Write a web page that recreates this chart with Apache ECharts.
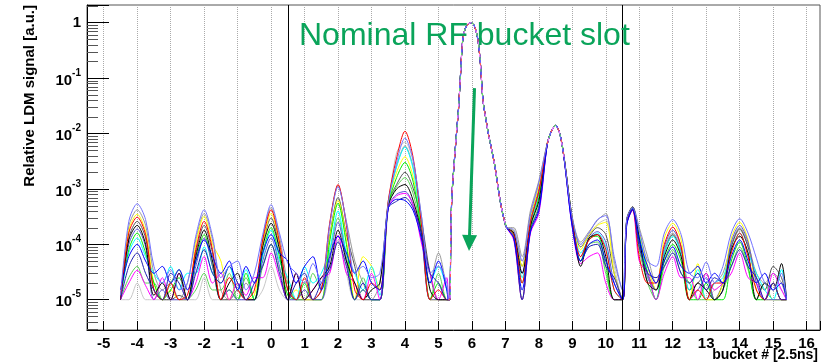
<!DOCTYPE html>
<html>
<head>
<meta charset="utf-8">
<script src="https://cdn.jsdelivr.net/npm/echarts@6/dist/echarts.min.js"></script>
<style>
  html, body { margin: 0; padding: 0; background: #fff; }
  #chart { width: 832px; height: 363px; }
</style>
</head>
<body>
<div id="chart"></div>
<script>
// Bucket positions (units of 2.5 ns) for the three stretches of every trace
const bucketsLeft = [-4.5, -4.25, -4.0, -3.75, -3.5, -3.25, -3.0, -2.75, -2.5, -2.25,
  -2.0, -1.75, -1.5, -1.25, -1.0, -0.75, -0.5, -0.25, 0, 0.25,
  0.5, 0.75, 1.0, 1.25, 1.5, 1.75, 2.0, 2.25, 2.5, 2.75,
  3.0, 3.25, 3.5, 3.75, 4.0, 4.25, 4.5, 4.75, 5.0, 5.25];
const bucketsCore = [5.3, 5.34, 5.37, 5.4, 5.45, 5.5, 5.55, 5.6, 5.65, 5.72,
  5.8, 5.9, 5.97, 6.05, 6.12, 6.18, 6.25, 6.33, 6.42, 6.49,
  6.58, 6.69, 6.84, 6.95, 7.04];
const bucketsRight = [7.25, 7.5, 7.75, 8.0, 8.25, 8.375, 8.5, 8.625, 8.75, 9.0,
  9.25, 9.5, 9.75, 10.0, 10.25, 10.5, 10.625, 10.8, 11.0, 11.25,
  11.5, 11.75, 12.0, 12.25, 12.5, 12.75, 13.0, 13.25, 13.5, 13.75,
  14.0, 14.25, 14.5, 14.75, 15.0, 15.25, 15.4];

// Main RF bucket: identical for all traces
const coreSignal = [1e-5, 1e-5, 1.5e-4, 7e-4, 2e-3, 5e-3, 1.2e-2, 2.8e-2, 9e-2, 0.45,
  0.78, 0.96, 1.0, 0.93, 0.72, 0.49, 0.2, 4e-2, 1.8e-2, 1e-2,
  5.5e-3, 2.5e-3, 6.3e-4, 3e-4, 2e-4];

// Satellite / ghost bunch signal per trace
const lavenderLeft = [1.2e-5, 2.6e-4, 5.4e-4, 2.8e-4, 4e-5, 2e-5, 3.5e-5, 1.5e-5, 2e-5, 1.4e-4,
  4.2e-4, 1.4e-4, 2.5e-5, 4e-5, 5e-5, 1.5e-5, 3e-5, 1.5e-4, 5.2e-4, 1.6e-4,
  4.5e-5, 3e-5, 2e-5, 4.5e-5, 2e-5, 2.2e-4, 1.1e-3, 2.5e-4, 3e-5, 4e-5,
  2.5e-5, 3e-5, 5.5e-4, 3e-3, 8.3e-3, 3.2e-3, 3e-4, 3e-5, 4e-5, 2e-5];
const lavenderRight = [1.8e-4, 5e-5, 3.5e-4, 1.3e-3, 6.5e-3, 1.1e-2, 1.4e-2, 1e-2, 3.8e-3, 3e-4,
  1e-4, 1.6e-4, 2.8e-4, 3.3e-4, 6e-5, 1.5e-5, 2.8e-4, 4.6e-4, 1.8e-4, 5e-5,
  4e-5, 1.6e-4, 2.8e-4, 1.5e-4, 3e-5, 2.5e-5, 4.8e-5, 2e-5, 4e-5, 1.6e-4,
  2.9e-4, 1.6e-4, 5.6e-5, 2e-5, 1.5e-5, 3e-5, 1e-5];

const redLeft = [1e-5, 1.6e-4, 3.1e-4, 1.5e-4, 1.5e-5, 1e-5, 2e-5, 1e-5, 1.2e-5, 8e-5,
  2.6e-4, 8e-5, 1e-5, 2.5e-5, 1.5e-5, 1e-5, 1.5e-5, 1.2e-4, 4.2e-4, 1.1e-4,
  1.5e-5, 1e-5, 2.5e-5, 1e-5, 1.5e-5, 2.4e-4, 1.2e-3, 2.2e-4, 1.5e-5, 1e-5,
  2e-5, 1.5e-5, 6e-4, 3.6e-3, 1.1e-2, 3.5e-3, 2e-4, 1e-5, 1.5e-5, 1e-5];
const redRight = [1.5e-4, 2e-5, 2.5e-4, 9e-4, 6.5e-3, 1.1e-2, 1.4e-2, 1e-2, 3.8e-3, 2.5e-4,
  6e-5, 1.2e-4, 1.5e-4, 8e-5, 1.5e-5, 1e-5, 2.5e-4, 4.2e-4, 6e-5, 2e-5,
  2e-5, 1e-4, 2.05e-4, 9e-5, 1e-5, 1.5e-5, 1e-5, 2e-5, 2e-5, 7e-5,
  1.6e-4, 6e-5, 1.5e-5, 1e-5, 2e-5, 1e-5, 1e-5];

const blueLeft = [1.5e-5, 6e-5, 1e-4, 5e-5, 3e-5, 4e-5, 2e-5, 3.5e-5, 1.5e-5, 5e-5,
  1.2e-4, 6e-5, 3e-5, 5e-5, 1.5e-5, 4e-5, 2e-5, 7e-5, 1.5e-4, 7e-5,
  5e-5, 2e-5, 4e-5, 6e-5, 1.5e-5, 6e-5, 1.4e-4, 7e-5, 3e-5, 5e-5,
  2e-5, 1.5e-5, 4.5e-4, 6.5e-4, 6.2e-4, 4e-4, 1.2e-4, 2e-5, 5e-5, 1.5e-5];
const blueRight = [1.3e-4, 1.5e-5, 1.7e-4, 4e-4, 6.3e-3, 1.1e-2, 1.4e-2, 1e-2, 3.7e-3, 2e-4,
  5e-5, 1e-4, 1.2e-4, 5e-5, 2e-5, 1e-5, 2.2e-4, 4.3e-4, 1.2e-4, 4e-5,
  2e-5, 5e-5, 9e-5, 4e-5, 3e-5, 4e-5, 2e-5, 3e-5, 2e-5, 6e-5,
  1.2e-4, 5e-5, 2e-5, 3e-5, 1.5e-5, 2e-5, 1e-5];

const blackLeft = [1e-5, 1.2e-4, 2.2e-4, 1e-4, 1.2e-5, 2e-5, 1e-5, 3e-5, 1e-5, 6e-5,
  1.8e-4, 5e-5, 1e-5, 2e-5, 3e-5, 1e-5, 1e-5, 9e-5, 2.4e-4, 8e-5,
  1e-5, 3e-5, 1e-5, 1.5e-5, 2.5e-5, 4e-5, 1.8e-4, 5e-5, 2e-5, 1e-5,
  1.5e-5, 2e-5, 5e-4, 1e-3, 1.2e-3, 6e-4, 1.5e-4, 1.5e-5, 1e-5, 1e-5];
const blackRight = [1.6e-4, 3e-5, 2.2e-4, 6e-4, 6.4e-3, 1.1e-2, 1.4e-2, 1e-2, 3.8e-3, 2.8e-4,
  4e-5, 1.3e-4, 1.5e-4, 6e-5, 1e-5, 1e-5, 2.7e-4, 4.7e-4, 1.3e-4, 2e-5,
  1.5e-5, 6e-5, 1.2e-4, 6e-5, 1e-5, 2e-5, 1.5e-5, 1e-5, 1.5e-5, 8e-5,
  1.4e-4, 7e-5, 1e-5, 2e-5, 1.5e-5, 4.5e-5, 1e-5];

const greenLeft = [1e-5, 8e-5, 1.6e-4, 7e-5, 2e-5, 1e-5, 1.5e-5, 2.5e-5, 1e-5, 5e-5,
  1.5e-4, 4e-5, 1e-5, 1.5e-5, 1e-5, 3e-5, 1e-5, 7e-5, 2e-4, 6e-5,
  1.2e-5, 1e-5, 2e-5, 1e-5, 1e-5, 1.1e-4, 5.5e-4, 1e-4, 1e-5, 1.5e-5,
  1e-5, 1e-5, 5e-4, 1.6e-3, 3e-3, 1.3e-3, 1.5e-4, 1e-5, 2e-5, 1e-5];
const greenRight = [1.5e-4, 1e-5, 2e-4, 7e-4, 6.5e-3, 1.1e-2, 1.4e-2, 1e-2, 3.8e-3, 2.6e-4,
  5e-5, 1.3e-4, 1.4e-4, 4e-5, 1e-5, 1e-5, 2.6e-4, 4.4e-4, 1e-4, 3e-5,
  1e-5, 5e-5, 1e-4, 5e-5, 1e-5, 1e-5, 2e-5, 1e-5, 1e-5, 5e-5,
  1.1e-4, 4e-5, 1e-5, 1e-5, 2e-5, 1e-5, 1e-5];

const yellowLeft = [1e-5, 1.8e-4, 3.5e-4, 1.7e-4, 2e-5, 1e-5, 1.5e-5, 1e-5, 1e-5, 1e-4,
  3.2e-4, 1e-4, 5e-5, 1e-5, 2e-5, 1e-5, 1.2e-5, 1e-4, 3.6e-4, 1e-4,
  1e-5, 1.5e-5, 1e-5, 1e-5, 1e-5, 1.3e-4, 6.2e-4, 1.2e-4, 1e-5, 6e-5,
  4e-5, 1.5e-5, 5.5e-4, 2e-3, 3.8e-3, 1.6e-3, 2.2e-4, 1e-5, 1e-5, 1e-5];
const yellowRight = [1.7e-4, 4e-5, 3e-4, 1.1e-3, 6.6e-3, 1.1e-2, 1.4e-2, 1e-2, 3.9e-3, 3e-4,
  8e-5, 1.5e-4, 2.2e-4, 2.5e-4, 3e-5, 1e-5, 2.7e-4, 4.5e-4, 1.6e-4, 4e-5,
  1.5e-5, 1.3e-4, 2.4e-4, 1.2e-4, 1e-5, 4.5e-5, 1e-5, 1e-5, 2e-5, 1.3e-4,
  2.5e-4, 1.2e-4, 1.5e-5, 1e-5, 1e-5, 1e-5, 1e-5];

const magentaLeft = [1e-5, 2e-5, 3.4e-5, 1.8e-5, 1e-5, 2.5e-5, 1e-5, 3e-5, 1e-5, 2e-5,
  6e-5, 2e-5, 3e-5, 1e-5, 2e-5, 1.2e-5, 2.5e-5, 2.5e-5, 7e-5, 2.5e-5,
  1e-5, 3e-5, 1e-5, 1.5e-5, 2.5e-5, 3e-5, 1.45e-4, 3e-5, 2e-5, 1e-5,
  3e-5, 1e-5, 4.5e-4, 7.5e-4, 8.3e-4, 5e-4, 1e-4, 3e-5, 1e-5, 2.5e-5];
const magentaRight = [1.2e-4, 1e-5, 1.6e-4, 3.6e-4, 6.2e-3, 1.1e-2, 1.4e-2, 1e-2, 3.7e-3, 2e-4,
  4.5e-5, 6e-5, 7e-5, 2e-5, 1e-5, 1e-5, 2.3e-4, 4.1e-4, 5e-5, 3e-5,
  1e-5, 3e-5, 6e-5, 2.5e-5, 2.5e-5, 1e-5, 3e-5, 1.5e-5, 2e-5, 3e-5,
  7e-5, 2.5e-5, 2e-5, 1e-5, 3e-5, 1.5e-5, 1e-5];

const cyanLeft = [1e-5, 7e-5, 1.3e-4, 6e-5, 3e-5, 2e-5, 4e-5, 1.5e-5, 3e-5, 3e-5,
  9e-5, 3e-5, 2e-5, 4e-5, 1.5e-5, 3.5e-5, 1e-5, 6e-5, 1.8e-4, 5e-5,
  2.5e-5, 1e-5, 4e-5, 2e-5, 3e-5, 8e-5, 4e-4, 7e-5, 3e-5, 1.5e-5,
  4e-5, 1.2e-5, 5.5e-4, 2.5e-3, 5.7e-3, 2.2e-3, 1.8e-4, 2e-5, 4e-5, 1.5e-5];
const cyanRight = [1.5e-4, 2.5e-5, 2.3e-4, 8e-4, 6.5e-3, 1.1e-2, 1.4e-2, 1e-2, 3.8e-3, 2.7e-4,
  7e-5, 1.2e-4, 1.6e-4, 9e-5, 1.5e-5, 1e-5, 2.6e-4, 4.5e-4, 1.4e-4, 3e-5,
  1e-5, 7e-5, 1.4e-4, 7e-5, 1.5e-5, 3.5e-5, 1e-5, 2e-5, 2.5e-5, 8e-5,
  1.6e-4, 7e-5, 3e-5, 1.5e-5, 1e-5, 3.5e-5, 1e-5];

const grayLeft = [1e-5, 2.1e-4, 4.2e-4, 2.2e-4, 3e-5, 1.5e-5, 2e-5, 1e-5, 2e-5, 1.2e-4,
  3.6e-4, 1.2e-4, 1.5e-5, 1e-5, 1e-5, 2e-5, 1e-5, 1.3e-4, 4.6e-4, 1.4e-4,
  2e-5, 1e-5, 1.5e-5, 1e-5, 1e-5, 2.2e-4, 1.15e-3, 2.6e-4, 5e-5, 2e-5,
  1e-5, 2e-5, 6e-4, 2.6e-3, 6e-3, 2.4e-3, 3e-4, 2e-5, 7e-5, 1.5e-5];
const grayRight = [2e-4, 6e-5, 4.1e-4, 1.4e-3, 6.7e-3, 1.1e-2, 1.4e-2, 1e-2, 3.9e-3, 3.1e-4,
  1.1e-4, 1.7e-4, 2.7e-4, 3.6e-4, 5e-5, 1.5e-5, 2.9e-4, 4.8e-4, 2e-4, 6e-5,
  2e-5, 8e-5, 1.6e-4, 8e-5, 2e-5, 3e-5, 1.5e-5, 2e-5, 3e-5, 1e-4,
  2e-4, 1e-4, 3e-5, 2e-5, 3e-5, 2e-5, 1e-5];

const darkGrayLeft = [1e-5, 1.3e-4, 2.6e-4, 1.3e-4, 1.5e-5, 1e-5, 1e-5, 1.2e-5, 1e-5, 7e-5,
  2.2e-4, 7e-5, 1e-5, 1e-5, 1.5e-5, 1e-5, 1e-5, 1e-4, 3e-4, 9e-5,
  1.5e-5, 1e-5, 1e-5, 1e-5, 1.5e-5, 1.4e-4, 7e-4, 1.5e-4, 4e-5, 1e-5,
  1e-5, 1e-5, 5.5e-4, 1.2e-3, 2e-3, 1e-3, 2.5e-4, 3e-5, 1e-5, 1e-5];
const darkGrayRight = [1.7e-4, 4e-5, 3e-4, 1e-3, 6.6e-3, 1.1e-2, 1.4e-2, 1e-2, 3.9e-3, 2.9e-4,
  9e-5, 1.4e-4, 2e-4, 1.5e-4, 3e-5, 1e-5, 2.8e-4, 4.6e-4, 1.5e-4, 3e-5,
  1.5e-5, 7e-5, 1.5e-4, 7e-5, 1.5e-5, 2e-5, 3e-5, 1e-5, 2e-5, 9e-5,
  1.9e-4, 9e-5, 2.5e-5, 1.5e-5, 4e-5, 2.5e-5, 1e-5];

const paleGreenLeft = [1e-5, 2.5e-5, 4e-5, 2e-5, 2e-5, 1e-5, 2e-5, 3.5e-5, 1e-5, 1.5e-5,
  3e-5, 1.5e-5, 1.5e-5, 3e-5, 1e-5, 2.5e-5, 1e-5, 4e-5, 1e-4, 3.5e-5,
  2e-5, 1e-5, 1e-5, 3e-5, 1.5e-5, 7e-5, 3e-4, 6e-5, 1e-5, 2.5e-5,
  1e-5, 1e-5, 5e-4, 1.1e-3, 1.6e-3, 8e-4, 1.5e-4, 1e-5, 3e-5, 1e-5];
const paleGreenRight = [1.4e-4, 2e-5, 1.9e-4, 5e-4, 6.3e-3, 1.1e-2, 1.4e-2, 1e-2, 3.7e-3, 2.3e-4,
  5e-5, 1e-4, 1.1e-4, 3e-5, 1e-5, 1e-5, 2.4e-4, 4.3e-4, 8e-5, 2e-5,
  1e-5, 4e-5, 8e-5, 3e-5, 2e-5, 1e-5, 1e-5, 1e-5, 1.5e-5, 4e-5,
  9e-5, 3.5e-5, 1e-5, 2e-5, 1e-5, 1e-5, 1e-5];

const violetLeft = [1e-5, 1e-4, 1.9e-4, 9e-5, 1e-5, 1.5e-5, 1e-5, 1e-5, 1e-5, 4e-5,
  1.3e-4, 4e-5, 1e-5, 1.5e-5, 1e-5, 1e-5, 1e-5, 5e-5, 1.3e-4, 4e-5,
  1e-5, 1e-5, 1.5e-5, 1e-5, 1e-5, 5e-5, 2.5e-4, 5e-5, 1e-5, 1.5e-5,
  1e-5, 1e-5, 4.8e-4, 8e-4, 9e-4, 5e-4, 1.2e-4, 1e-5, 1e-5, 1e-5];
const violetRight = [1.6e-4, 3e-5, 2.6e-4, 9e-4, 6.5e-3, 1.1e-2, 1.4e-2, 1e-2, 3.8e-3, 2.6e-4,
  6e-5, 1.3e-4, 1.7e-4, 1.1e-4, 2e-5, 1e-5, 2.6e-4, 4.5e-4, 1.1e-4, 2.5e-5,
  1.5e-5, 9e-5, 1.8e-4, 9e-5, 1e-5, 1.5e-5, 2.5e-5, 1e-5, 1.5e-5, 1.1e-4,
  2.2e-4, 1.1e-4, 2e-5, 1e-5, 1e-5, 1e-5, 1e-5];

const lightGrayLeft = [1e-5, 1e-5, 2e-5, 1e-5, 1e-5, 1e-5, 1e-5, 1e-5, 1e-5, 1e-5,
  2.5e-5, 1e-5, 1e-5, 1e-5, 1e-5, 1e-5, 1e-5, 1.5e-5, 4e-5, 1.5e-5,
  1e-5, 1e-5, 1e-5, 1e-5, 1e-5, 3e-5, 1.2e-4, 3e-5, 1e-5, 1e-5,
  1e-5, 1e-5, 4.5e-4, 4.5e-3, 7e-3, 3e-3, 2.5e-4, 1e-5, 1e-5, 1e-5];
const lightGrayRight = [1.9e-4, 5e-5, 3.6e-4, 1.2e-3, 6.7e-3, 1.1e-2, 1.4e-2, 1e-2, 3.9e-3, 3e-4,
  1e-4, 1.5e-4, 2.3e-4, 2.8e-4, 4e-5, 1e-5, 2.8e-4, 4.7e-4, 1.7e-4, 4e-5,
  1.5e-5, 7e-5, 1.5e-4, 7e-5, 1e-5, 2e-5, 1e-5, 1.5e-5, 2e-5, 9e-5,
  1.8e-4, 9e-5, 2e-5, 1e-5, 2e-5, 1.5e-5, 1e-5];

const navyLeft = [1e-5, 4e-5, 7e-5, 3e-5, 1.5e-5, 1e-5, 3e-5, 2e-5, 1e-5, 3e-5,
  8e-5, 3e-5, 2e-5, 4e-5, 2e-5, 1e-5, 2e-5, 4e-5, 1e-4, 3e-5,
  1e-5, 2e-5, 3e-5, 1e-5, 2e-5, 3.5e-5, 1.1e-4, 4e-5, 1e-5, 2e-5,
  1e-5, 1e-5, 4.5e-4, 6e-4, 7e-4, 4.5e-4, 1.6e-4, 3e-5, 2e-5, 1e-5];
const navyRight = [1.3e-4, 1e-5, 1.8e-4, 4.5e-4, 6.3e-3, 1.1e-2, 1.4e-2, 1e-2, 3.7e-3, 2.2e-4,
  5e-5, 9e-5, 1e-4, 4e-5, 2.5e-5, 1e-5, 2.3e-4, 4.2e-4, 9e-5, 3e-5,
  2.5e-5, 4e-5, 7e-5, 3e-5, 2e-5, 3e-5, 1.5e-5, 2.5e-5, 2e-5, 4e-5,
  8e-5, 4e-5, 2.5e-5, 1e-5, 2e-5, 1e-5, 1e-5];

// Log-axis minor tick multipliers and decade starts
const minorSteps = [2, 3, 4, 5, 6, 7, 8, 9];
const decadeStarts = [1e-6, 1e-5, 1e-4, 1e-3, 1e-2, 1e-1, 1];

const X_MIN = -5.5, X_MAX = 16.4;
const Y_MIN = 2.84e-6, Y_MAX = 2.09;
const FONT = '"Liberation Sans", Arial, Helvetica, sans-serif';
const GREEN = '#0aa45a';

const traces = [
  { name: 'light grey', color: '#c8c8c8', left: lightGrayLeft, right: lightGrayRight },
  { name: 'grey', color: '#999999', left: grayLeft, right: grayRight },
  { name: 'dark grey', color: '#555555', left: darkGrayLeft, right: darkGrayRight },
  { name: 'pale green', color: '#59d454', left: paleGreenLeft, right: paleGreenRight },
  { name: 'yellow', color: '#ffff00', left: yellowLeft, right: yellowRight },
  { name: 'cyan', color: '#00ffff', left: cyanLeft, right: cyanRight },
  { name: 'green', color: '#00ee00', left: greenLeft, right: greenRight },
  { name: 'violet', color: '#5954d8', left: violetLeft, right: violetRight },
  { name: 'magenta', color: '#ff00ff', left: magentaLeft, right: magentaRight },
  { name: 'black', color: '#000000', left: blackLeft, right: blackRight },
  { name: 'red', color: '#ff0000', left: redLeft, right: redRight },
  { name: 'navy', color: '#2020b0', left: navyLeft, right: navyRight },
  { name: 'blue', color: '#0000ff', left: blueLeft, right: blueRight },
  { name: 'lavender', color: '#7373ff', left: lavenderLeft, right: lavenderRight }
];

function zip(xs, ys) { return xs.map((x, i) => [x, ys[i]]); }

const series = traces.map(t => ({
  type: 'line',
  name: t.name,
  data: zip(bucketsLeft, t.left).concat(zip(bucketsCore, coreSignal), zip(bucketsRight, t.right)),
  symbol: 'none',
  smooth: 0.3,
  silent: true,
  z: 2,
  lineStyle: { color: t.color, width: 1 },
  itemStyle: { color: t.color }
}));

// Overlapping traces on the common peaks: interleaved coloured dashes
const peakOverlay = zip(bucketsCore, coreSignal).concat(
  [[7.1, null]],
  zip(bucketsRight.slice(4, 9), lavenderRight.slice(4, 9))
);
['#ff5a5a', '#6a6aff', '#66dd66', '#ff88ff'].forEach((c, k) => {
  series.push({
    type: 'line', data: peakOverlay, symbol: 'none', smooth: 0.3, silent: true, z: 3,
    connectNulls: false,
    lineStyle: { color: c, width: 1.2, type: [3, 9], dashOffset: k * 3 }
  });
});

// Minor ticks of the log axis (2..9 per decade)
const minorTicks = [];
decadeStarts.forEach(d => minorSteps.forEach(m => {
  const v = m * d;
  if (v > Y_MIN && v < Y_MAX) minorTicks.push([X_MIN, v]);
}));
series.push({
  type: 'custom',
  data: minorTicks,
  clip: false,
  silent: true,
  z: 5,
  renderItem: (params, api) => {
    const p = api.coord([api.value(0), api.value(1)]);
    const y = Math.round(p[1]) + 0.5;
    return { type: 'line', shape: { x1: p[0], y1: y, x2: p[0] + 11, y2: y },
             style: { stroke: '#555', lineWidth: 1 } };
  }
});

// Train boundaries and the arrow to the nominal bucket
series.push({
  type: 'line',
  data: [],
  silent: true,
  markLine: {
    silent: true,
    animation: false,
    symbol: 'none',
    label: { show: false },
    lineStyle: { color: '#000', width: 1, type: 'solid' },
    data: [
      { xAxis: 0.5 },
      { xAxis: 10.5 },
      [
        { coord: [6.078, 0.066], symbol: 'none', lineStyle: { color: GREEN, width: 3, type: 'solid' } },
        { coord: [5.922, 1.06e-4], symbol: 'triangle', symbolSize: [15, 16], lineStyle: { color: GREEN, width: 3, type: 'solid' } }
      ]
    ]
  }
});

const chart = echarts.init(document.getElementById('chart'), null, { renderer: 'canvas' });
chart.setOption({
  animation: false,
  backgroundColor: '#fff',
  grid: {
    left: 87, right: 12, top: 5, bottom: 33,
    show: true, borderColor: '#555', borderWidth: 1, backgroundColor: 'transparent',
    containLabel: false
  },
  xAxis: {
    type: 'value',
    min: X_MIN, max: X_MAX,
    minInterval: 1, maxInterval: 1,
    axisLine: { show: true, onZero: false, lineStyle: { color: '#000', width: 1 } },
    axisTick: { show: true, inside: true, length: 9, lineStyle: { color: '#000' } },
    splitLine: { show: true, lineStyle: { type: 'dotted', color: '#aaa', width: 1 } },
    axisLabel: {
      interval: 0, margin: 6, color: '#000', fontFamily: FONT, fontWeight: 'bold', fontSize: 15,
      formatter: v => (Math.abs(v - Math.round(v)) < 1e-6 ? String(Math.round(v)) : '')
    }
  },
  yAxis: {
    type: 'log', logBase: 10,
    min: Y_MIN, max: Y_MAX,
    axisLine: { show: true, onZero: false, lineStyle: { color: '#000', width: 1 } },
    axisTick: { show: true, inside: true, length: 22, lineStyle: { color: '#000' } },
    splitLine: { show: false },
    minorTick: { show: false },
    axisLabel: {
      margin: 6, color: '#000', fontFamily: FONT, fontWeight: 'bold', fontSize: 15,
      formatter: v => {
        const l = Math.log10(v);
        const e = Math.round(l);
        if (Math.abs(l - e) > 1e-6) return '';
        return e === 0 ? '{one|1}' : '{base|10}{sup|' + e + '}';
      },
      rich: {
        one: { fontFamily: FONT, fontWeight: 'bold', fontSize: 15, color: '#000' },
        base: { fontFamily: FONT, fontWeight: 'bold', fontSize: 15, color: '#000', verticalAlign: 'bottom', lineHeight: 20, padding: [8, 0, 0, 0] },
        sup: { fontFamily: FONT, fontWeight: 'bold', fontSize: 10, color: '#000', verticalAlign: 'top', lineHeight: 20, padding: [0, 0, 8, 0] }
      }
    }
  },
  graphic: [
    { type: 'text', x: 299, y: 36, z: 20,
      style: { text: 'Nominal RF bucket slot', fill: GREEN, fontFamily: FONT, fontSize: 32,
               textAlign: 'left', textVerticalAlign: 'middle' } },
    { type: 'text', x: 818, y: 355, z: 20,
      style: { text: 'bucket # [2.5ns]', fill: '#000', fontFamily: FONT, fontWeight: 'bold', fontSize: 14,
               textAlign: 'right', textVerticalAlign: 'middle' } },
    { type: 'text', x: 30, y: 5, rotation: Math.PI / 2, z: 20,
      style: { text: 'Relative LDM signal [a.u.]', fill: '#000', fontFamily: FONT, fontWeight: 'bold', fontSize: 15,
               textAlign: 'right', textVerticalAlign: 'middle' } }
  ],
  series: series
});
</script>
</body>
</html>
